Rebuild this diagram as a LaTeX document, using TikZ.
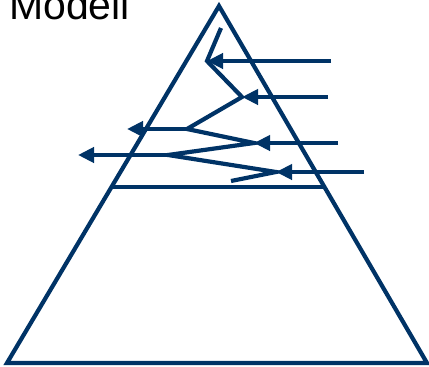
\documentclass[tikz,border=0pt]{standalone}
\usepackage{fontspec}
\setmainfont{Liberation Sans}
\usetikzlibrary{arrows.meta,calc}
\definecolor{navy}{RGB}{0,51,102}
\begin{document}
\begin{tikzpicture}[x=1pt,y=-1pt,
  ln/.style={draw=navy,line width=4.2pt},
  arr/.style={ln,-{Triangle[length=16pt,width=15pt]}}]
\useasboundingbox (0,0) rectangle (429,367);
\clip (0,0) rectangle (429,367);
\node[anchor=base west,inner sep=0pt,font=\fontsize{41}{41}\selectfont] (title) at (9,19) {Modell};
\coordinate (A) at (219,6);
\coordinate (BL) at (7,363);
\coordinate (BR) at (427,363);
\draw[ln,line join=miter] (A) -- (BL) -- (BR) -- cycle;
\coordinate (HL) at ($(A)!0.507!(BL)$);
\coordinate (HR) at ($(A)!0.507!(BR)$);
\draw[ln] (HL) -- (HR);
% zigzag
\coordinate (z0) at (221,28);
\coordinate (z1) at (207,61);
\coordinate (z2) at (242,97);
\coordinate (z3) at (187,129);
\coordinate (z4) at (254,143);
\coordinate (z5) at (168,155);
\coordinate (z6) at (276,172);
\coordinate (z7) at (231,181);
\draw[ln,line join=miter] (z0) -- (z1) -- (z2) -- (z3) -- (z4) -- (z5) -- (z6) -- (z7);
% incoming arrows
\coordinate (r1) at (331,61);
\coordinate (r2) at (328,97);
\coordinate (r3) at (338,143);
\coordinate (r4) at (364,172);
\draw[arr] (r1) -- (z1);
\draw[arr] (r2) -- (z2);
\draw[arr] (r3) -- (z4);
\draw[arr] (r4) -- (z6);
% outgoing arrows
\coordinate (l1) at (127,129);
\coordinate (l2) at (78,155);
\draw[arr] (z3) -- (l1);
\draw[arr] (z5) -- (l2);
\end{tikzpicture}
\end{document}
